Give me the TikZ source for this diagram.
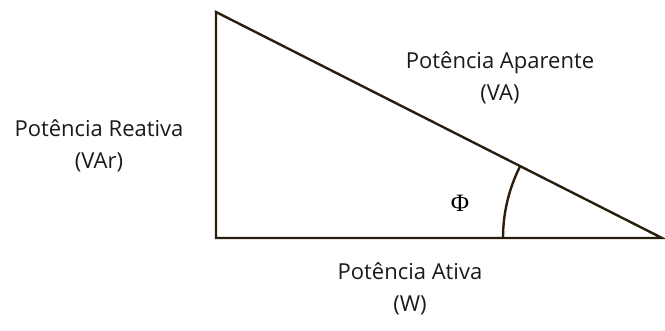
\documentclass[tikz,border=0pt]{standalone}
\usepackage{fontspec}
\setmainfont{Open Sans}
\newfontfamily\phifont{Liberation Serif}
\usepackage{tikz}
\usetikzlibrary{positioning, calc}
\usepackage{xcolor}
\definecolor{darkbrown}{HTML}{2B1D0E}
\definecolor{labelgray}{HTML}{1A1A1A}

\begin{document}
\begin{tikzpicture}[x=1pt, y=1pt,
  side/.style={draw=darkbrown, line width=2.4pt, line join=miter},
  lbl/.style={align=center, text=labelgray, font=\fontsize{22}{32}\selectfont, inner sep=0pt},
]
  \useasboundingbox (0,0) rectangle (665,330);
  % vertices of the triangle
  \coordinate (top) at (216,318);
  \coordinate (corner) at (216,92);
  \coordinate (tip) at (662,92);
  \draw[side] (top) -- (corner) -- (tip) -- cycle;
  % angle
  \coordinate (arcstart) at (503,92);
  \draw[side] (arcstart) arc[start angle=180, end angle=153.13, radius=159];
  \node[font=\phifont\fontsize{25}{27}\selectfont, text=black] (phi) at (460,127) {Φ};
  % labels
  \node[lbl] (reativa) at (99,184) {Potência Reativa\\(VAr)};
  \node[lbl] (aparente) at (500,252) {Potência Aparente\\(VA)};
  \node[lbl] (ativa) at (410,41) {Potência Ativa\\(W)};
\end{tikzpicture}
\end{document}
